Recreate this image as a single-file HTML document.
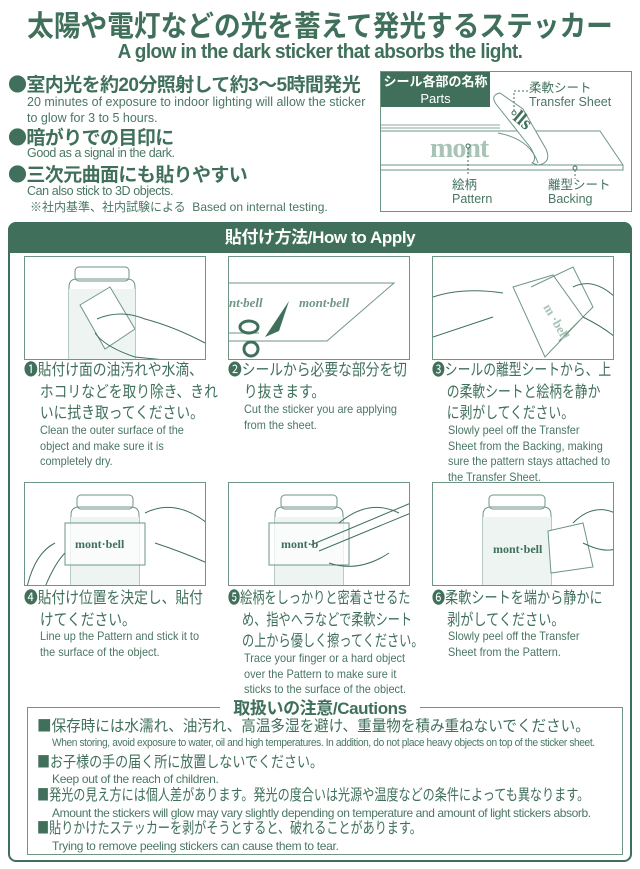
<!DOCTYPE html>
<html><head><meta charset="utf-8">
<style>
*{margin:0;padding:0;box-sizing:border-box}
body{width:640px;height:869px;background:#fff;position:relative;overflow:hidden;color:#40705c;font-family:"Liberation Sans","Noto Sans CJK JP",sans-serif}
.a{position:absolute;white-space:nowrap;transform-origin:0 0}
.m{font-family:"Noto Sans CJK JP",sans-serif}
.t1{left:320px;top:3px;font-size:29px;font-weight:bold;transform:translateX(-50%) scaleX(0.92);transform-origin:50% 0}
.t2{left:320px;top:41px;font-size:20px;font-weight:bold;letter-spacing:-0.6px;transform:translateX(-50%) scaleX(0.95);transform-origin:50% 0}
.bj{font-size:19px;font-weight:bold;left:8px;letter-spacing:-0.6px}
.be{font-size:12.5px;left:27px;color:#4a7763}
.panel{position:absolute;left:8px;top:222px;width:624px;height:640px;border:2px solid #40705c;border-radius:8px}
.bar{position:absolute;left:8px;top:222px;width:624px;height:31px;background:#40705c;border-radius:8px 8px 0 0;color:#fff;text-align:center;font-size:17px;font-weight:bold;line-height:31px;letter-spacing:-0.4px}
.box{position:absolute;width:182px;height:104px;border:1.5px solid #6f9684;overflow:hidden}
.sj{position:absolute;font-size:16px;line-height:21.5px;white-space:nowrap;transform:scaleX(0.86);transform-origin:0 0}
.sj div.i{padding-left:18.5px}
.se{position:absolute;font-size:12px;line-height:15.5px;color:#4a7763;white-space:nowrap;transform:scaleX(0.91);transform-origin:0 0}
.cbox{position:absolute;left:27px;top:707px;width:596px;height:148px;border:1px solid #6f9684}
.ct{position:absolute;left:220px;top:694px;width:200px;text-align:center;background:#fff;font-size:17px;font-weight:bold;letter-spacing:-0.4px}
.cj{font-size:15.5px;left:37px}
.ce{font-size:12px;left:52px;color:#4a7763;letter-spacing:-0.3px}
</style></head><body>
<div class="a t1">太陽や電灯などの光を蓄えて発光するステッカー</div>
<div class="a t2">A glow in the dark sticker that absorbs the light.</div>

<div class="a bj" style="top:70px"><span class="m">●</span>室内光を約20分照射して約3〜5時間発光</div>
<div class="a be" style="top:95px">20 minutes of exposure to indoor lighting will allow the sticker</div>
<div class="a be" style="top:111px">to glow for 3 to 5 hours.</div>
<div class="a bj" style="top:123px"><span class="m">●</span>暗がりでの目印に</div>
<div class="a be" style="top:146px;letter-spacing:-0.4px">Good as a signal in the dark.</div>
<div class="a bj" style="top:160px"><span class="m">●</span>三次元曲面にも貼りやすい</div>
<div class="a be" style="top:184px;letter-spacing:-0.4px">Can also stick to 3D objects.</div>
<div class="a be" style="top:198px;font-size:12px;left:30px">※社内基準、社内試験による&nbsp; Based on internal testing.</div>

<!-- parts diagram -->
<div class="a" style="left:380px;top:71px;width:252px;height:141px;border:1px solid #6f9684"></div>
<svg class="a" style="left:380px;top:71px" width="252" height="141">
<path d="M1 54 H120 M1 57 H120" stroke="#8aab9b" stroke-width="1"/>
<path d="M1 60 H220 L243 94 V99 H1" fill="#fff" stroke="#6f9684"/>
<path d="M1 94 H243" stroke="#6f9684"/>
<text x="50" y="86" font-family="Liberation Serif" font-weight="bold" font-size="28" fill="#a8c4b6" letter-spacing="-1">mont</text>
<path d="M120 22 Q110 24 116 33 L150 76 Q158 88 152 92 L158 94 Q172 92 166 78 L143 38 Z" fill="#fff" stroke="#6f9684"/>
<path d="M118 62 Q150 68 158 92" fill="none" stroke="#6f9684"/>
<text x="132" y="48" font-family="Liberation Serif" font-weight="bold" font-size="19" fill="#40705c" transform="rotate(40 132 48)">lls</text>
<circle cx="134" cy="42" r="2" fill="#fff" stroke="#40705c"/>
<path d="M134 40 V20 H148" stroke="#40705c" stroke-dasharray="2,2" fill="none"/>
<circle cx="88" cy="75" r="2" fill="#fff" stroke="#40705c"/>
<path d="M88 77 V105" stroke="#40705c" stroke-dasharray="2,2"/>
<circle cx="195" cy="97" r="2" fill="#fff" stroke="#40705c"/>
<path d="M195 99 V108" stroke="#40705c" stroke-dasharray="2,2"/>
</svg>
<div class="a" style="left:381px;top:72px;width:109px;height:35px;background:#40705c;color:#fff;text-align:center;font-size:13px;line-height:17px;padding-top:1px"><b>シール各部の名称</b><br>Parts</div>
<div class="a" style="left:529px;top:81px;font-size:12.5px;line-height:14px;color:#40705c">柔軟シート<br><span style="color:#4a7763">Transfer Sheet</span></div>
<div class="a" style="left:452px;top:178px;font-size:12.5px;line-height:14px">絵柄<br><span style="color:#4a7763">Pattern</span></div>
<div class="a" style="left:548px;top:178px;font-size:12.5px;line-height:14px">離型シート<br><span style="color:#4a7763">Backing</span></div>

<div class="panel"></div>
<div class="bar">貼付け方法/How to Apply</div>

<!-- row 1 -->
<div class="box" style="left:24px;top:256px"><svg width="182" height="104">
<rect x="50" y="10" width="54" height="14" rx="4" fill="#fff" stroke="#6f9684"/>
<path d="M44 30 Q44 22 52 22 H102 Q110 22 110 30 V104 M44 30 V104" fill="none" stroke="#6f9684"/>
<rect x="44" y="32" width="66" height="72" fill="#eef4f1"/>
<path d="M55 48 L85 30 L110 72 L80 92 Z" fill="#fff" stroke="#6f9684"/>
<path d="M72 62 Q95 52 120 62 Q150 70 180 86 M70 76 Q80 90 110 100 L150 104" fill="none" stroke="#40705c"/>
</svg></div>
<div class="box" style="left:228px;top:256px"><svg width="182" height="104">
<path d="M0 26 H165 L98 84 H0 M0 76 H30" fill="none" stroke="#6f9684"/>
<text x="0" y="50" font-family="Liberation Serif" font-style="italic" font-weight="bold" font-size="13" fill="#6f9684">nt·bell</text>
<text x="70" y="50" font-family="Liberation Serif" font-style="italic" font-weight="bold" font-size="13" fill="#6f9684">mont·bell</text>
<path d="M36 80 L60 44 L50 74 Z" fill="#40705c"/>
<ellipse cx="20" cy="70" rx="9" ry="6" fill="none" stroke="#40705c" stroke-width="3"/>
<ellipse cx="22" cy="92" rx="7" ry="7" fill="none" stroke="#40705c" stroke-width="3"/>
</svg></div>
<div class="box" style="left:432px;top:256px"><svg width="182" height="104">
<path d="M80 30 L120 18 L150 60 L112 100 Z M98 30 L140 10 L160 50 L126 84" fill="#fff" stroke="#6f9684"/>
<text x="110" y="50" font-family="Liberation Serif" font-weight="bold" font-size="13" fill="#a8c4b6" transform="rotate(60 110 50)">m ·bell</text>
<path d="M0 40 Q30 30 70 36 M0 80 Q30 70 60 60 M140 30 Q160 20 182 40 M150 60 Q170 70 182 80" fill="none" stroke="#40705c"/>
</svg></div>

<div class="sj" style="left:24px;top:360px"><div>❶貼付け面の油汚れや水滴、</div><div class="i">ホコリなどを取り除き、きれ</div><div class="i">いに拭き取ってください。</div></div>
<div class="se" style="left:40px;top:423px">Clean the outer surface of the<br>object and make sure it is<br>completely dry.</div>
<div class="sj" style="left:228px;top:360px"><div>❷シールから必要な部分を切</div><div class="i">り抜きます。</div></div>
<div class="se" style="left:244px;top:402px">Cut the sticker you are applying<br>from the sheet.</div>
<div class="sj" style="left:432px;top:360px;transform:scaleX(0.8)"><div>❸シールの離型シートから、上</div><div class="i">の柔軟シートと絵柄を静か</div><div class="i">に剥がしてください。</div></div>
<div class="se" style="left:448px;top:423px">Slowly peel off the Transfer<br>Sheet from the Backing, making<br>sure the pattern stays attached to<br>the Transfer Sheet.</div>

<!-- row 2 -->
<div class="box" style="left:24px;top:482px"><svg width="182" height="104">
<rect x="52" y="12" width="56" height="14" rx="4" fill="#fff" stroke="#6f9684"/>
<path d="M46 32 Q46 24 54 24 H106 Q114 24 114 32 V104 M46 32 V104" fill="none" stroke="#6f9684"/>
<rect x="46" y="34" width="68" height="70" fill="#eef4f1"/>
<rect x="40" y="40" width="80" height="42" fill="#fff" fill-opacity="0.7" stroke="#6f9684"/>
<text x="50" y="65" font-family="Liberation Serif" font-weight="bold" font-size="12" fill="#40705c">mont·bell</text>
<path d="M2 104 Q10 70 30 60 M20 104 Q30 80 40 70 M120 30 Q150 15 182 40 M130 60 Q160 70 182 80" fill="none" stroke="#40705c"/>
</svg></div>
<div class="box" style="left:228px;top:482px"><svg width="182" height="104">
<rect x="52" y="12" width="56" height="14" rx="4" fill="#fff" stroke="#6f9684"/>
<path d="M46 32 Q46 24 54 24 H106 Q114 24 114 32 V104 M46 32 V104" fill="none" stroke="#6f9684"/>
<rect x="46" y="34" width="68" height="70" fill="#eef4f1"/>
<rect x="40" y="40" width="80" height="42" fill="#fff" fill-opacity="0.7" stroke="#6f9684"/>
<text x="52" y="65" font-family="Liberation Serif" font-weight="bold" font-size="12" fill="#40705c">mont·b</text>
<path d="M82 62 L182 20 M90 68 L182 30 M110 40 Q140 15 170 30 M100 80 Q130 90 160 70" fill="none" stroke="#40705c"/>
</svg></div>
<div class="box" style="left:432px;top:482px"><svg width="182" height="104">
<rect x="56" y="12" width="56" height="14" rx="4" fill="#fff" stroke="#6f9684"/>
<path d="M50 32 Q50 24 58 24 H110 Q118 24 118 32 V104 M50 32 V104" fill="none" stroke="#6f9684"/>
<rect x="50" y="34" width="68" height="70" fill="#eef4f1"/>
<path d="M115 48 L150 40 L160 84 L118 90 Z" fill="#fff" stroke="#6f9684"/>
<text x="60" y="70" font-family="Liberation Serif" font-weight="bold" font-size="12" fill="#40705c">mont·bell</text>
<path d="M140 40 Q160 20 182 30 M150 60 Q170 70 182 66" fill="none" stroke="#40705c"/>
</svg></div>

<div class="sj" style="left:24px;top:588px"><div>❹貼付け位置を決定し、貼付</div><div class="i">けてください。</div></div>
<div class="se" style="left:40px;top:629px">Line up the Pattern and stick it to<br>the surface of the object.</div>
<div class="sj" style="left:228px;top:588px;transform:scaleX(0.76)"><div>❺絵柄をしっかりと密着させるた</div><div class="i">め、指やヘラなどで柔軟シート</div><div class="i">の上から優しく擦ってください。</div></div>
<div class="se" style="left:244px;top:651px">Trace your finger or a hard object<br>over the Pattern to make sure it<br>sticks to the surface of the object.</div>
<div class="sj" style="left:432px;top:588px;transform:scaleX(0.82)"><div>❻柔軟シートを端から静かに</div><div class="i">剥がしてください。</div></div>
<div class="se" style="left:448px;top:629px">Slowly peel off the Transfer<br>Sheet from the Pattern.</div>

<!-- cautions -->
<div class="cbox"></div>
<div class="a ct">取扱いの注意/Cautions</div>
<div class="a cj" style="top:714px;transform:scaleX(0.94)"><span class="m">■</span>保存時には水濡れ、油汚れ、高温多湿を避け、重量物を積み重ねないでください。</div>
<div class="a ce" style="top:737px;font-size:10.6px;letter-spacing:-0.4px;transform:scaleX(0.96)">When storing, avoid exposure to water, oil and high temperatures. In addition, do not place heavy objects on top of the sticker sheet.</div>
<div class="a cj" style="top:750px;transform:scaleX(0.84)"><span class="m">■</span>お子様の手の届く所に放置しないでください。</div>
<div class="a ce" style="top:772px">Keep out of the reach of children.</div>
<div class="a cj" style="top:783px;transform:scaleX(0.78)"><span class="m">■</span>発光の見え方には個人差があります。発光の度合いは光源や温度などの条件によっても異なります。</div>
<div class="a ce" style="top:806px;letter-spacing:-0.4px">Amount the stickers will glow may vary slightly depending on temperature and amount of light stickers absorb.</div>
<div class="a cj" style="top:816px;transform:scaleX(0.78)"><span class="m">■</span>貼りかけたステッカーを剥がそうとすると、破れることがあります。</div>
<div class="a ce" style="top:839px">Trying to remove peeling stickers can cause them to tear.</div>
</body></html>
